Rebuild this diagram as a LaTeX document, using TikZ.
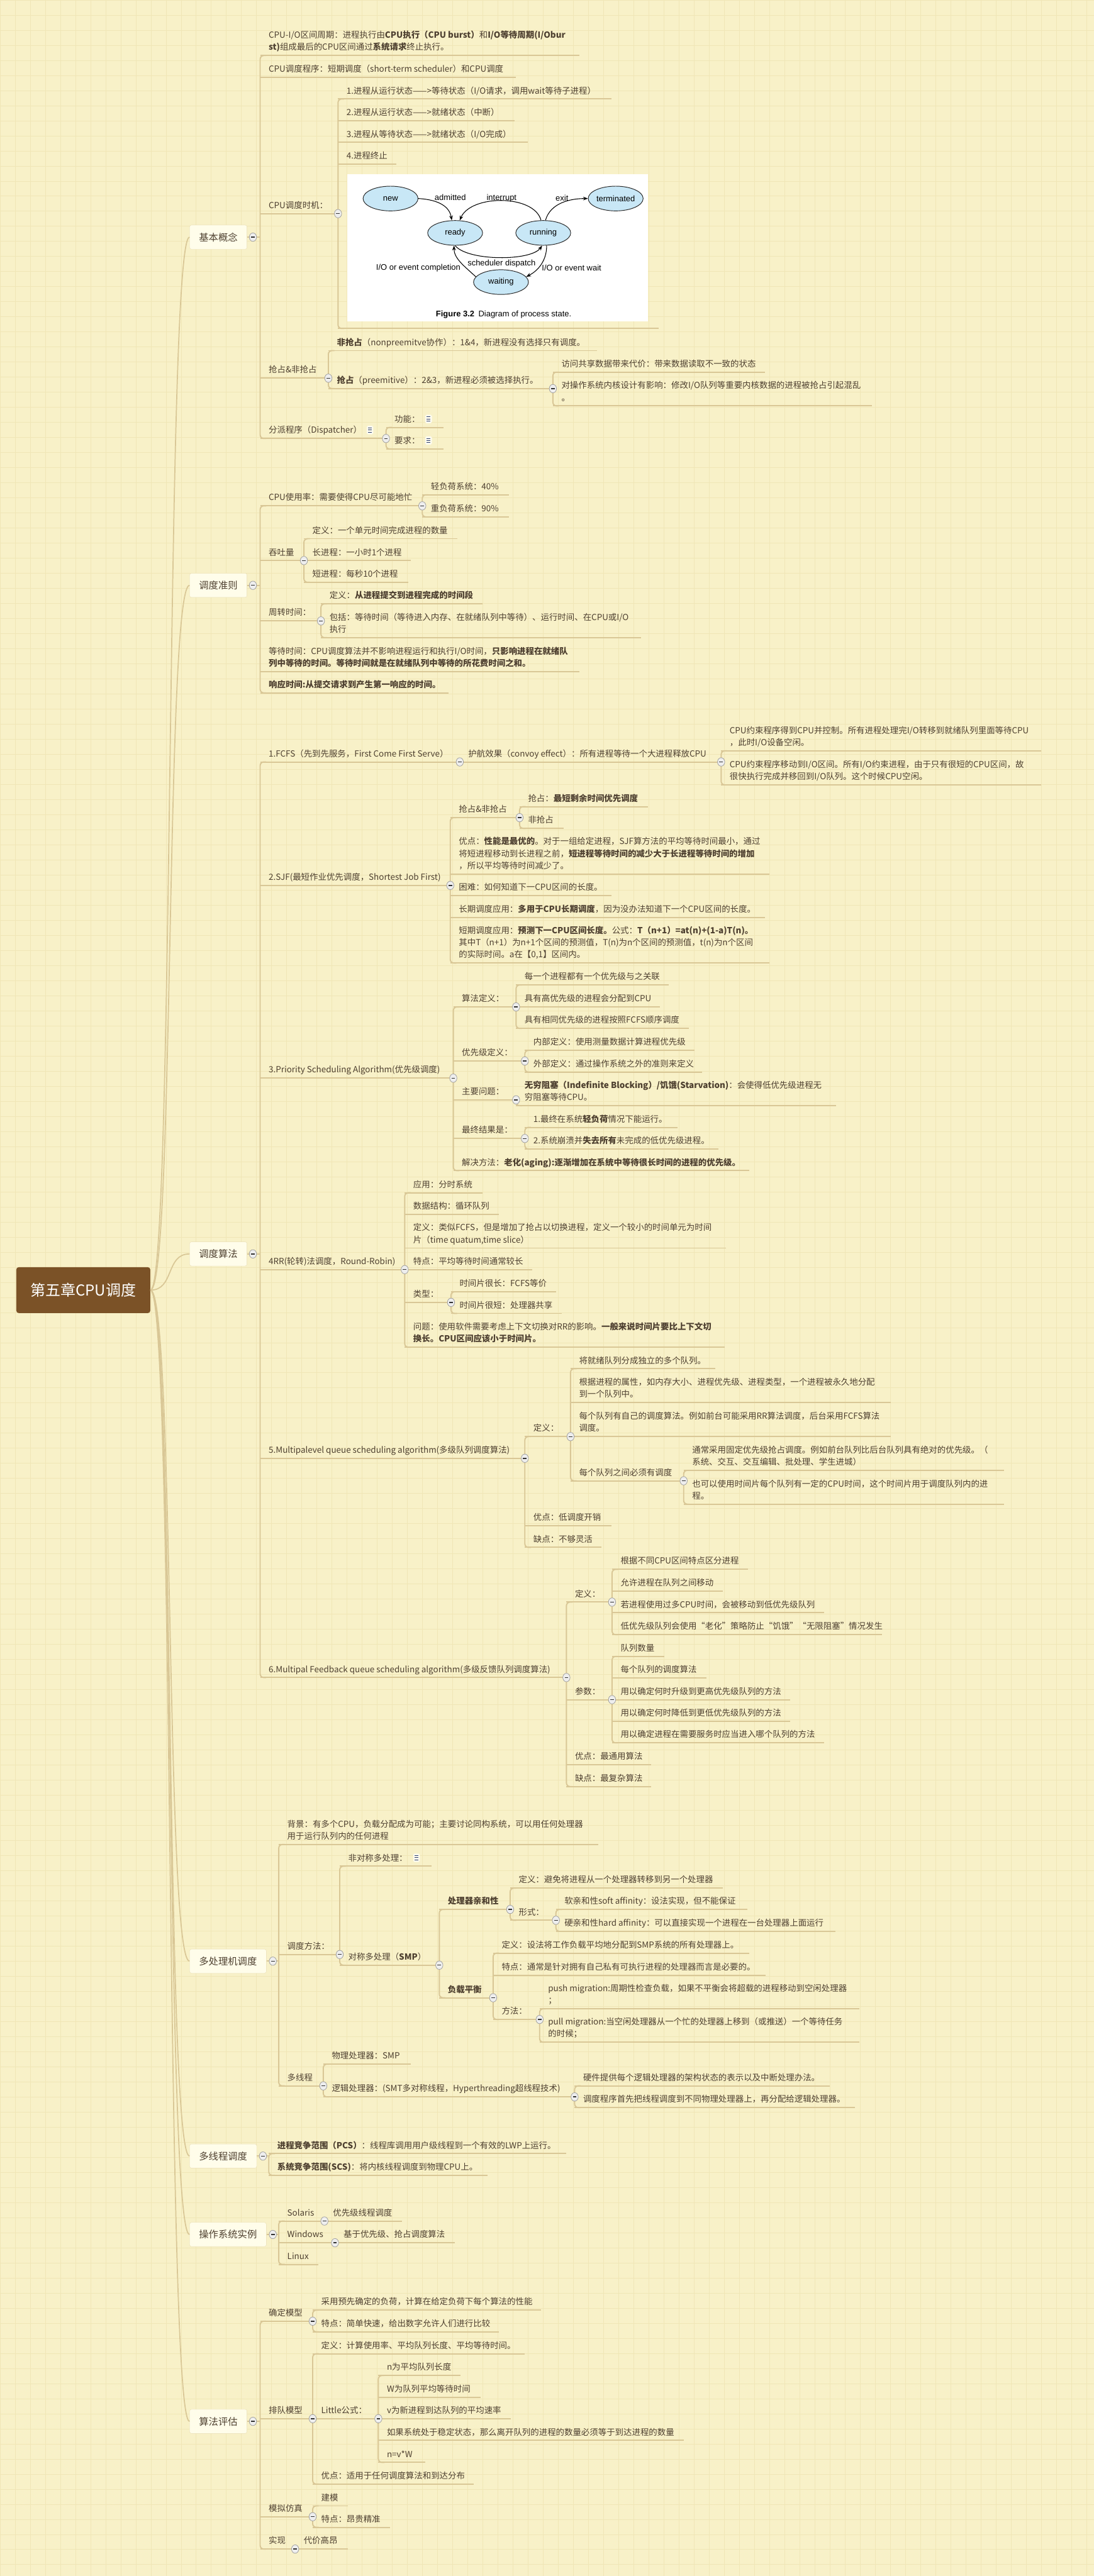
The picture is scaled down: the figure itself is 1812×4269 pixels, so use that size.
\documentclass[tikz,border=0pt]{standalone}
\usepackage{fontspec}
\setmainfont{Noto Sans CJK SC}
\newfontfamily\figfont{Liberation Sans}
\usetikzlibrary{shapes.geometric,arrows.meta}
\definecolor{bgc}{HTML}{F8F1C8}
\definecolor{gridc}{HTML}{F0E6B6}
\definecolor{lnc}{HTML}{D9C796}
\definecolor{txc}{HTML}{4E4030}
\definecolor{boxf}{HTML}{FFFDEA}
\definecolor{boxd}{HTML}{E8DDB4}
\definecolor{rootf}{HTML}{7B5227}
\definecolor{btnf}{HTML}{EEEEEE}
\definecolor{btnd}{HTML}{A0A0A0}
\definecolor{btnm}{HTML}{333333}
\definecolor{icnc}{HTML}{2F3F70}
\definecolor{stf}{HTML}{C8E7F6}
\tikzset{
  ln/.style={draw=lnc, line width=2pt},
  cv/.style={draw=lnc, line width=1.8pt},
  txt/.style={anchor=base west, inner sep=0pt, text=txc, font=\fontsize{14}{20}\selectfont},
  btn/.style={ellipse, draw=btnd, line width=0.8pt, fill=btnf, minimum width=12pt, minimum height=14pt, inner sep=0pt,
    path picture={\draw[btnm, line width=1.5pt] ([xshift=-3pt]path picture bounding box.center) -- ([xshift=3pt]path picture bounding box.center);}},
  icn/.style={rectangle, rounded corners=2pt, fill=white!70!bgc, minimum width=11pt, minimum height=14pt, inner sep=0pt,
    path picture={\foreach \k in {-3.5,0,3.5}{\draw[icnc, line width=1pt] ([xshift=-3pt,yshift=\k pt]path picture bounding box.center) -- ([xshift=3pt,yshift=\k pt]path picture bounding box.center);}}},
  tb/.style={draw=boxd, fill=boxf, rounded corners=3pt, minimum height=40pt, inner xsep=15.5pt, inner ysep=0pt,
    font=\fontsize{16}{20}\selectfont, text=txc, anchor=west},
  rootn/.style={fill=rootf, text=white, rounded corners=4pt, minimum width=222pt, minimum height=76pt,
    font=\fontsize{25}{30}\selectfont},
  st/.style={ellipse, draw=black!85, line width=1pt, fill=stf, minimum width=91pt, minimum height=41pt, inner sep=0pt},
  fa/.style={-{Stealth[length=8pt,width=6pt]}, line width=1.1pt, black},
  fl/.style={inner sep=0pt, text=black}
}
\newcommand\lf[5]{\draw[ln] (#2,#3) coordinate (#1s) -- (#4,#3) coordinate (#1e);
  \node[txt] (#1) at ({#2+14},{#3-8.7}) {\begin{tabular}[b]{@{}l@{}}#5\end{tabular}};}
\newcommand\tk[3]{\draw[ln, rounded corners=6pt] ({#1+10},#2) -- (#1,#2) -- (#1,#3) -- ({#1+10},#3);}
\newcommand\bt[3]{\node[btn] (#1) at (#2,#3) {};}
\newcommand\ic[3]{\node[icn] (#1) at (#2,#3) {};}
\begin{document}
\begin{tikzpicture}[x=1pt, y=-1pt]
\useasboundingbox (0,0) rectangle (1812,4269);
\fill[bgc] (0,0) rectangle (1812,4269);
\foreach \i in {0,25,...,1800} {\draw[gridc, line width=0.7pt] (\i,0) -- (\i,4269);}
\foreach \j in {0,25,...,4260} {\draw[gridc, line width=0.7pt] (0,\j) -- (1812,\j);}

% root and first-level boxes
\node[rootn] (root) at (138,2138) {第五章CPU调度};
\node[tb] (k1) at (314,393) {基本概念};
\node[tb] (k2) at (314,970) {调度准则};
\node[tb] (k3) at (314,2078) {调度算法};
\node[tb] (k4) at (314,3250) {多处理机调度};
\node[tb] (k5) at (314,3573) {多线程调度};
\node[tb] (k6) at (314,3703) {操作系统实例};
\node[tb] (k7) at (314,4012.7) {算法评估};
\foreach \k in {k1,k2,k3,k4,k5,k6,k7}{
  \draw[cv] (root.east) .. controls +(40,0) and +(-40,0) .. (\k.west);}
\draw[ln] (k1.east) -- (431,393);
\draw[ln] (k2.east) -- (431,970);
\draw[ln] (k3.east) -- (431,2078);
\draw[ln] (k4.east) -- (461.8,3250);
\draw[ln] (k5.east) -- (445.3,3573);
\draw[ln] (k6.east) -- (461.8,3703);
\draw[ln] (k7.east) -- (431,4012.7);

% ===== 基本概念 =====
\tk{431}{92}{726.7}
\lf{a1}{431}{92}{960}{CPU-I/O区间周期：进程执行由\textbf{CPU执行（CPU burst）}和\textbf{I/O等待周期(I/Obur}\\\textbf{st)}组成最后的CPU区间通过\textbf{系统请求}终止执行。}
\lf{a2}{431}{128.3}{855}{CPU调度程序：短期调度（short-term scheduler）和CPU调度}
\lf{a3}{431}{354}{560}{CPU调度时机：}
\tk{560}{164}{544.3}
\lf{a31}{560}{164}{1013}{1.进程从运行状态——>等待状态（I/O请求，调用wait等待子进程）}
\lf{a32}{560}{200}{853}{2.进程从运行状态——>就绪状态（中断）}
\lf{a33}{560}{236}{874}{3.进程从等待状态——>就绪状态（I/O完成）}
\lf{a34}{560}{271.7}{657}{4.进程终止}
\draw[ln] (560,544.3) coordinate (a35s) -- (1091,544.3) coordinate (a35e);
\lf{a4}{431}{626.7}{544}{抢占\&非抢占}
\tk{544}{581}{644}
\lf{a41}{544}{581}{989}{\textbf{非抢占}（nonpreemitve协作）：1\&4，新进程没有选择只有调度。}
\lf{a42}{544}{644}{916}{\textbf{抢占}（preemitive）：2\&3，新进程必须被选择执行。}
\tk{916}{616.7}{672.7}
\lf{a421}{916}{616.7}{1267}{访问共享数据带来代价：带来数据读取不一致的状态}
\lf{a422}{916}{672.7}{1445}{对操作系统内核设计有影响：修改I/O队列等重要内核数据的进程被抢占引起混乱\\。}
\lf{a5}{431}{726.7}{639.5}{分派程序（Dispatcher）}
\tk{639.5}{708.3}{744}
\lf{a51}{639.5}{708.3}{734.6}{功能：}
\lf{a52}{639.5}{744}{734.6}{要求：}

% process state figure
\fill[white] (575,289) rectangle (1074,533);
\begin{scope}[font=\figfont\fontsize{13.5}{15}\selectfont]
\node[st] (new) at (647,329) {new};
\node[st] (term) at (1020,329) {terminated};
\node[st] (ready) at (754,386) {ready};
\node[st] (run) at (900,386) {running};
\node[st] (wait) at (830,467.5) {waiting};
\draw[fa] (new.east) .. controls (728,331) and (745,343) .. (ready.105);
\draw[fa] (run.100) .. controls (885,322) and (780,322) .. (ready.70);
\draw[fa] (run.80) .. controls (912,336) and (945,329) .. (term.west);
\draw[fa] (ready.south) .. controls (775,433) and (880,433) .. (run.-95);
\draw[fa] (run.-75) .. controls (906,430) and (893,448) .. (wait.12);
\draw[fa] (wait.168) .. controls (768,440) and (752,428) .. (ready.-95);
\node[fl] (l1) at (746,327) {admitted};
\node[fl] (l2) at (831,328) {interrupt};
\node[fl] (l3) at (931,328) {exit};
\node[fl] (l4) at (831,437) {scheduler dispatch};
\node[fl] (l5) at (693,444) {I/O or event completion};
\node[fl] (l6) at (947,444) {I/O or event wait};
\node[fl, anchor=west] (cap) at (722,521) {\textbf{Figure 3.2}\enspace Diagram of process state.};
\end{scope}

% ===== 调度准则 =====
\tk{431}{838.3}{1148.3}
\lf{b1}{431}{838.3}{699.6}{CPU使用率：需要使得CPU尽可能地忙}
\tk{699.6}{820}{856.7}
\lf{b11}{699.6}{820}{843}{轻负荷系统：40\%}
\lf{b12}{699.6}{856.7}{843}{重负荷系统：90\%}
\lf{b2}{431}{929}{503.5}{吞吐量}
\tk{503.5}{892.7}{965}
\lf{b21}{503.5}{892.7}{758}{定义：一个单元时间完成进程的数量}
\lf{b22}{503.5}{929}{681}{长进程：一小时1个进程}
\lf{b23}{503.5}{965}{676}{短进程：每秒10个进程}
\lf{b3}{431}{1029}{531.7}{周转时间：}
\tk{531.7}{1000.7}{1056.7}
\lf{b31}{531.7}{1000.7}{799.6}{定义：\textbf{从进程提交到进程完成的时间段}}
\lf{b32}{531.7}{1056.7}{1061.7}{包括：等待时间（等待进入内存、在就绪队列中等待）、运行时间、在CPU或I/O\\执行}
\lf{b4}{431}{1112.7}{959.8}{等待时间：CPU调度算法并不影响进程运行和执行I/O时间，\textbf{只影响进程在就绪队}\\\textbf{列中等待的时间。等待时间就是在就绪队列中等待的所花费时间之和。}}
\lf{b5}{431}{1148.3}{743}{\textbf{响应时间:从提交请求到产生第一响应的时间。}}

% ===== 调度算法 =====
\tk{431}{1262.7}{2780}
\lf{c1}{431}{1262.7}{761.7}{1.FCFS（先到先服务，First Come First Serve）}
\lf{c11}{761.7}{1262.7}{1194.7}{护航效果（convoy effect）：所有进程等待一个大进程释放CPU}
\tk{1194.7}{1244.3}{1300.7}
\lf{c111}{1194.7}{1244.3}{1724.7}{CPU约束程序得到CPU并控制。所有进程处理完I/O转移到就绪队列里面等待CPU\\，此时I/O设备空闲。}
\lf{c112}{1194.7}{1300.7}{1724.7}{CPU约束程序移动到I/O区间。所有I/O约束进程，由于只有很短的CPU区间，故\\很快执行完成并移回到I/O队列。这个时候CPU空闲。}
\lf{c2}{431}{1467.3}{746}{2.SJF(最短作业优先调度，Shortest Job First)}
\tk{746}{1355}{1596}
\lf{c21}{746}{1355}{860.8}{抢占\&非抢占}
\tk{860.8}{1336.7}{1372.7}
\lf{c211}{860.8}{1336.7}{1074}{抢占：\textbf{最短剩余时间优先调度}}
\lf{c212}{860.8}{1372.7}{933.6}{非抢占}
\lf{c22}{746}{1448.3}{1275}{优点：\textbf{性能是最优的}。对于一组给定进程，SJF算方法的平均等待时间最小，通过\\将短进程移动到长进程之前，\textbf{短进程等待时间的减少大于长进程等待时间的增加}\\，所以平均等待时间减少了。}
\lf{c23}{746}{1484.3}{1013}{困难：如何知道下一CPU区间的长度。}
\lf{c24}{746}{1520.7}{1267.5}{长期调度应用：\textbf{多用于CPU长期调度}，因为没办法知道下一个CPU区间的长度。}
\lf{c25}{746}{1596}{1275}{短期调度应用：\textbf{预测下一CPU区间长度。}公式：\textbf{T（n+1）=at(n)+(1-a)T(n)。}\\其中T（n+1）为n+1个区间的预测值，T(n)为n个区间的预测值，t(n)为n个区间\\的实际时间。a在【0,1】区间内。}
\lf{c3}{431}{1786.7}{751}{3.Priority Scheduling Algorithm(优先级调度)}
\tk{751}{1668.7}{1940}
\lf{c31}{751}{1668.7}{855}{算法定义：}
\tk{855}{1632.3}{1704.3}
\lf{c311}{855}{1632.3}{1108.3}{每一个进程都有一个优先级与之关联}
\lf{c312}{855}{1668.7}{1093.7}{具有高优先级的进程会分配到CPU}
\lf{c313}{855}{1704.3}{1141}{具有相同优先级的进程按照FCFS顺序调度}
\lf{c32}{751}{1758.3}{869.5}{优先级定义：}
\tk{869.5}{1740.7}{1776.7}
\lf{c321}{869.5}{1740.7}{1151}{内部定义：使用测量数据计算进程优先级}
\lf{c322}{869.5}{1776.7}{1163.6}{外部定义：通过操作系统之外的准则来定义}
\lf{c33}{751}{1822.7}{855}{主要问题：}
\draw[ln, rounded corners=6pt] (855,1822.7) -- (855,1832.3) -- (865,1832.3);
\lf{c331}{855}{1832.3}{1385}{\textbf{无穷阻塞（Indefinite Blocking）/饥饿(Starvation)}：会使得低优先级进程无\\穷阻塞等待CPU。}
\lf{c34}{751}{1886.7}{869.5}{最终结果是：}
\tk{869.5}{1868.3}{1904.3}
\lf{c341}{869.5}{1868.3}{1122}{1.最终在系统\textbf{轻负荷}情况下能运行。}
\lf{c342}{869.5}{1904.3}{1190}{2.系统崩溃并\textbf{失去所有}未完成的低优先级进程。}
\lf{c35}{751}{1940}{1241}{解决方法：\textbf{老化(aging):逐渐增加在系统中等待很长时间的进程的优先级。}}
\lf{c4}{431}{2104}{670.5}{4RR(轮转)法调度，Round-Robin)}
\tk{670.5}{1976.7}{2232.7}
\lf{c41}{670.5}{1976.7}{799.6}{应用：分时系统}
\lf{c42}{670.5}{2012.7}{826.8}{数据结构：循环队列}
\lf{c43}{670.5}{2068.3}{1202.5}{定义：类似FCFS，但是增加了抢占以切换进程，定义一个较小的时间单元为时间\\片（time quatum,time slice）}
\lf{c44}{670.5}{2104}{882}{特点：平均等待时间通常较长}
\lf{c45}{670.5}{2158.3}{747.2}{类型：}
\tk{747.2}{2140.7}{2176.7}
\lf{c451}{747.2}{2140.7}{921}{时间片很长：FCFS等价}
\lf{c452}{747.2}{2176.7}{930.7}{时间片很短：处理器共享}
\lf{c46}{670.5}{2232.7}{1200.5}{问题：使用软件需要考虑上下文切换对RR的影响。\textbf{一般来说时间片要比上下文切}\\\textbf{换长。CPU区间应该小于时间片。}}
\lf{c5}{431}{2416.7}{869.5}{5.Multipalevel queue scheduling algorithm(多级队列调度算法)}
\tk{869.5}{2380.7}{2564.3}
\lf{c51}{869.5}{2380.7}{945.2}{定义：}
\tk{945.2}{2268.3}{2454}
\lf{c511}{945.2}{2268.3}{1185}{将就绪队列分成独立的多个队列。}
\lf{c512}{945.2}{2324.3}{1476}{根据进程的属性，如内存大小、进程优先级、进程类型，一个进程被永久地分配\\到一个队列中。}
\lf{c513}{945.2}{2380.7}{1476}{每个队列有自己的调度算法。例如前台可能采用RR算法调度，后台采用FCFS算法\\调度。}
\lf{c514}{945.2}{2454}{1132.6}{每个队列之间必须有调度}
\tk{1132.6}{2436.7}{2492.7}
\lf{c5141}{1132.6}{2436.7}{1663.5}{通常采用固定优先级抢占调度。例如前台队列比后台队列具有绝对的优先级。（\\系统、交互、交互编辑、批处理、学生进城）}
\lf{c5142}{1132.6}{2492.7}{1663.5}{也可以使用时间片每个队列有一定的CPU时间，这个时间片用于调度队列内的进\\程。}
\lf{c52}{869.5}{2528.3}{1013}{优点：低调度开销}
\lf{c53}{869.5}{2564.3}{996.7}{缺点：不够灵活}
\lf{c6}{431}{2780}{938.4}{6.Multipal Feedback queue scheduling algorithm(多级反馈队列调度算法)}
\tk{938.4}{2655}{2960.7}
\lf{c61}{938.4}{2655}{1014}{定义：}
\tk{1014}{2600.7}{2709}
\lf{c611}{1014}{2600.7}{1239.3}{根据不同CPU区间特点区分进程}
\lf{c612}{1014}{2636.7}{1197.6}{允许进程在队列之间移动}
\lf{c613}{1014}{2672.7}{1365.5}{若进程使用过多CPU时间，会被移动到低优先级队列}
\lf{c614}{1014}{2709}{1461.6}{低优先级队列会使用“老化”策略防止“饥饿”“无限阻塞”情况发生}
\lf{c62}{938.4}{2816.7}{1014}{参数：}
\tk{1014}{2745}{2888.3}
\lf{c621}{1014}{2745}{1100.5}{队列数量}
\lf{c622}{1014}{2780.7}{1170.4}{每个队列的调度算法}
\lf{c623}{1014}{2816.7}{1309.2}{用以确定何时升级到更高优先级队列的方法}
\lf{c624}{1014}{2852.7}{1309.2}{用以确定何时降低到更低优先级队列的方法}
\lf{c625}{1014}{2888.3}{1365.5}{用以确定进程在需要服务时应当进入哪个队列的方法}
\lf{c63}{938.4}{2924.3}{1079.2}{优点：最通用算法}
\lf{c64}{938.4}{2960.7}{1079.2}{缺点：最复杂算法}

% ===== 多处理机调度 =====
\tk{461.8}{3056.7}{3456.7}
\lf{d1}{461.8}{3056.7}{990.8}{背景：有多个CPU，负载分配成为可能；主要讨论同构系统，可以用任何处理器\\用于运行队列内的任何进程}
\lf{d2}{461.8}{3239}{562.8}{调度方法：}
\tk{562.8}{3092.7}{3256.7}
\lf{d21}{562.8}{3092.7}{715.2}{非对称多处理：}
\lf{d22}{562.8}{3256.7}{727.8}{对称多处理（\textbf{SMP}）}
\tk{727.8}{3164.3}{3310.7}
\lf{d221}{727.8}{3164.3}{845.2}{\textbf{处理器亲和性}}
\tk{845.2}{3129}{3182.3}
\lf{d2211}{845.2}{3129}{1197.6}{定义：避免将进程从一个处理器转移到另一个处理器}
\lf{d2212}{845.2}{3182.3}{921}{形式：}
\tk{921}{3164.3}{3200.7}
\lf{d22121}{921}{3164.3}{1238.4}{软亲和性soft affinity：设法实现，但不能保证}
\lf{d22122}{921}{3200.7}{1384}{硬亲和性hard affinity：可以直接实现一个进程在一台处理器上面运行}
\lf{d222}{727.8}{3310.7}{817}{\textbf{负载平衡}}
\tk{817}{3236.7}{3346.7}
\lf{d2221}{817}{3236.7}{1241.3}{定义：设法将工作负载平均地分配到SMP系统的所有处理器上。}
\lf{d2222}{817}{3273.3}{1268.4}{特点：通常是针对拥有自己私有可执行进程的处理器而言是必要的。}
\lf{d2223}{817}{3346.7}{894}{方法：}
\tk{894}{3329}{3384.3}
\lf{d22231}{894}{3329}{1423.8}{push migration:周期性检查负载，如果不平衡会将超载的进程移动到空闲处理器\\；}
\lf{d22232}{894}{3384.3}{1423.8}{pull migration:当空闲处理器从一个忙的处理器上移到（或推送）一个等待任务\\的时候；}
\lf{d3}{461.8}{3456.7}{535.6}{多线程}
\tk{535.6}{3420.7}{3475}
\lf{d31}{535.6}{3420.7}{680.2}{物理处理器：SMP}
\lf{d32}{535.6}{3475}{952}{逻辑处理器：(SMT多对称线程，Hyperthreading超线程技术)}
\tk{952}{3456.7}{3492.7}
\lf{d321}{952}{3456.7}{1375.2}{硬件提供每个逻辑处理器的架构状态的表示以及中断处理办法。}
\lf{d322}{952}{3492.7}{1416}{调度程序首先把线程调度到不同物理处理器上，再分配给逻辑处理器。}

% ===== 多线程调度 =====
\tk{445.3}{3569}{3605}
\lf{e1}{445.3}{3569}{938.4}{\textbf{进程竞争范围（PCS）}：线程库调用用户级线程到一个有效的LWP上运行。}
\lf{e2}{445.3}{3605}{807.4}{\textbf{系统竞争范围(SCS)}：将内核线程调度到物理CPU上。}

% ===== 操作系统实例 =====
\tk{461.8}{3680.7}{3752.7}
\lf{f1}{461.8}{3680.7}{537.5}{Solaris}
\lf{f11}{537.5}{3680.7}{665.7}{优先级线程调度}
\lf{f2}{461.8}{3716.7}{555}{Windows}
\lf{f21}{555}{3716.7}{754}{基于优先级、抢占调度算法}
\lf{f3}{461.8}{3752.7}{527.8}{Linux}

% ===== 算法评估 =====
\tk{431}{3846.7}{4224.3}
\lf{g1}{431}{3846.7}{518}{确定模型}
\tk{518}{3828.3}{3864.3}
\lf{g11}{518}{3828.3}{896.7}{采用预先确定的负荷，计算在给定负荷下每个算法的性能}
\lf{g12}{518}{3864.3}{826.8}{特点：简单快速，给出数字允许人们进行比较}
\lf{g2}{431}{4008.3}{518}{排队模型}
\tk{518}{3900.7}{4116.7}
\lf{g21}{518}{3900.7}{869.5}{定义：计算使用率、平均队列长度、平均等待时间。}
\lf{g22}{518}{4008.3}{626.8}{Little公式：}
\tk{626.8}{3936.7}{4080.7}
\lf{g221}{626.8}{3936.7}{762.7}{n为平均队列长度}
\lf{g222}{626.8}{3972.7}{796.7}{W为队列平均等待时间}
\lf{g223}{626.8}{4008.3}{846.2}{v为新进程到达队列的平均速率}
\lf{g224}{626.8}{4044.3}{1132.6}{如果系统处于稳定状态，那么离开队列的进程的数量必须等于到达进程的数量}
\lf{g225}{626.8}{4080.7}{704.5}{n=v*W}
\lf{g23}{518}{4116.7}{785}{优点：适用于任何调度算法和到达分布}
\lf{g3}{431}{4170.7}{518}{模拟仿真}
\tk{518}{4152.7}{4188.3}
\lf{g31}{518}{4152.7}{576}{建模}
\lf{g32}{518}{4188.3}{646.2}{特点：昂贵精准}
\lf{g4}{431}{4224.3}{489}{实现}
\lf{g41}{489}{4224.3}{576.4}{代价高昂}

% note icons
\ic{i1}{613}{712.7}
\ic{i2}{710}{694.3}
\ic{i3}{710}{730}
\ic{i4}{690}{3078.7}

% collapse buttons
\bt{k1b}{419}{393}
\bt{k2b}{419}{970}
\bt{k3b}{419}{2078}
\bt{k4b}{452}{3250}
\bt{k5b}{435.6}{3573}
\bt{k6b}{452}{3703}
\bt{k7b}{419}{4012.7}
\bt{a3b}{560}{354}
\bt{a4b}{544}{626.7}
\bt{a42b}{916}{644}
\bt{a5b}{639.5}{726.7}
\bt{b1b}{699.6}{838.3}
\bt{b2b}{503.5}{929}
\bt{b3b}{531.7}{1029}
\bt{c1b}{761.7}{1262.7}
\bt{c11b}{1194.7}{1262.7}
\bt{c2b}{746}{1467.3}
\bt{c21b}{860.8}{1355}
\bt{c3b}{751}{1786.7}
\bt{c31b}{855}{1668.7}
\bt{c32b}{869.5}{1758.3}
\bt{c33b}{855}{1822.7}
\bt{c34b}{869.5}{1886.7}
\bt{c4b}{670.5}{2104}
\bt{c45b}{747.2}{2158.3}
\bt{c5b}{869.5}{2416.7}
\bt{c51b}{945.2}{2380.7}
\bt{c514b}{1132.6}{2454}
\bt{c6b}{938.4}{2780}
\bt{c61b}{1014}{2655}
\bt{c62b}{1014}{2816.7}
\bt{d2b}{562.8}{3239}
\bt{d22b}{727.8}{3256.7}
\bt{d221b}{845.2}{3164.3}
\bt{d2212b}{921}{3182.3}
\bt{d222b}{817}{3310.7}
\bt{d2223b}{894}{3346.7}
\bt{d3b}{535.6}{3456.7}
\bt{d32b}{952}{3475}
\bt{f1b}{537.5}{3680.7}
\bt{f2b}{555}{3716.7}
\bt{g1b}{518}{3846.7}
\bt{g2b}{518}{4008.3}
\bt{g22b}{626.8}{4008.3}
\bt{g3b}{518}{4170.7}
\bt{g4b}{489}{4224.3}
\end{tikzpicture}
\end{document}
